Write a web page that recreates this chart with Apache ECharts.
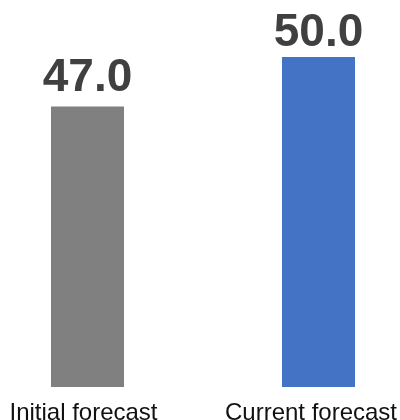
<!DOCTYPE html>
<html>
<head>
<meta charset="utf-8">
<script src="https://cdn.jsdelivr.net/npm/echarts@6/dist/echarts.min.js"></script>
<style>html,body{margin:0;padding:0;background:#fff}#c{width:400px;height:420px}</style>
</head>
<body>
<div id="c"></div>
<script>
const categories = ['Initial forecast', 'Current forecast'];
const values = [47.0, 50.0];
const barColors = ['#808080', '#4472C4'];
const labelDistances = [5, 1];
const labelShift = [8, 15];

const chart = echarts.init(document.getElementById('c'), null, {renderer: 'canvas'});
chart.setOption({
  animation: false,
  grid: {left: -28, right: -34, top: 57, bottom: 33, containLabel: false, outerBoundsMode: 'none'},
  xAxis: {
    type: 'category',
    data: categories,
    axisLine: {show: false},
    axisTick: {show: false},
    axisLabel: {
      margin: 14,
      interval: 0,
      showMinLabel: true,
      showMaxLabel: true,
      hideOverlap: false,
      fontFamily: 'Liberation Sans, Arial, sans-serif',
      fontSize: 24,
      color: '#111',
      formatter: function (v, i) { return '{a' + i + '|' + v + '}'; },
      rich: {
        a0: {fontFamily: 'Liberation Sans', fontSize: 24, color: '#111', padding: [0, labelShift[0], 0, 0]},
        a1: {fontFamily: 'Liberation Sans', fontSize: 24, color: '#111', padding: [0, labelShift[1], 0, 0]}
      }
    }
  },
  yAxis: {type: 'value', min: 30, max: 50, show: false, splitLine: {show: false}},
  series: [{
    type: 'bar',
    barWidth: 73,
    data: values.map((v, i) => ({
      value: v,
      itemStyle: {color: barColors[i]},
      label: {distance: labelDistances[i]}
    })),
    label: {
      show: true,
      position: 'top',
      formatter: p => p.value.toFixed(1),
      fontFamily: 'Liberation Sans, Arial, sans-serif',
      fontWeight: 'bold',
      fontSize: 46,
      color: '#404040'
    }
  }]
});
</script>
</body>
</html>
